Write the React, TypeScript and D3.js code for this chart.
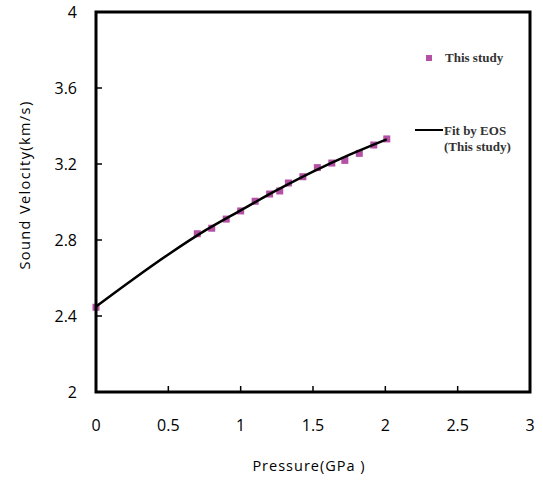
import React from 'react';
import * as d3 from 'd3';

const pressure = [0, 0.7, 0.8, 0.9, 1.0, 1.1, 1.2, 1.27, 1.33, 1.43, 1.53, 1.63, 1.72, 1.82, 1.92, 2.01];
const velocity = [2.446, 2.833, 2.862, 2.91, 2.953, 3.004, 3.042, 3.058, 3.1, 3.133, 3.181, 3.205, 3.219, 3.256, 3.3, 3.332];

const fitPressure = [0, 0.25, 0.5, 0.75, 1.0, 1.25, 1.5, 1.75, 2.01];
const fitVelocity = [2.45, 2.59, 2.724, 2.848, 2.956, 3.062, 3.16, 3.248, 3.33];

const xTicks = [0, 0.5, 1, 1.5, 2, 2.5, 3];
const yTicks = [2, 2.4, 2.8, 3.2, 3.6, 4];

const MARKER = '#b451a4';
const FONT = '"Open Sans", sans-serif';
const SERIF = '"Liberation Serif", serif';

export default function App() {
  const width = 543;
  const height = 481;
  const left = 96, right = 530, top = 12, bottom = 392;

  const x = d3.scaleLinear().domain([0, 3]).range([left, right]);
  const y = d3.scaleLinear().domain([2, 4]).range([bottom, top]);

  const line = d3.line<[number, number]>()
    .x(d => x(d[0]))
    .y(d => y(d[1]))
    .curve(d3.curveMonotoneX);

  const fitData: [number, number][] = fitPressure.map((p, i) => [p, fitVelocity[i]]);

  return (
    <svg width={width} height={height} style={{ position: 'absolute', left: 0, top: 0, background: '#fff' }}>
      {/* data points */}
      {pressure.map((p, i) => (
        <rect key={i} x={x(p) - 3.5} y={y(velocity[i]) - 3.5} width={7} height={7} fill={MARKER} />
      ))}
      <path d={line(fitData) || ''} fill="none" stroke="#000" strokeWidth={2.5} />

      {/* frame */}
      <rect x={left} y={top} width={right - left} height={bottom - top} fill="none" stroke="#000" strokeWidth={3} />

      {/* ticks */}
      {xTicks.slice(1, -1).map(t => (
        <line key={'xt' + t} x1={x(t)} x2={x(t)} y1={bottom} y2={bottom - 6} stroke="#000" strokeWidth={1.5} />
      ))}
      {yTicks.slice(1, -1).map(t => (
        <line key={'yt' + t} x1={left} x2={left + 6} y1={y(t)} y2={y(t)} stroke="#000" strokeWidth={1.5} />
      ))}

      {/* tick labels */}
      {xTicks.map(t => (
        <text key={'xl' + t} x={x(t)} y={431} textAnchor="middle" fontFamily={FONT} fontSize={16} fill="#000">{t}</text>
      ))}
      {yTicks.map(t => (
        <text key={'yl' + t} x={77} y={y(t) + 6} textAnchor="end" fontFamily={FONT} fontSize={16} fill="#000">{t}</text>
      ))}

      {/* axis titles */}
      <text x={309} y={471} textAnchor="middle" fontFamily={FONT} fontSize={14.5} letterSpacing={1} fill="#000">Pressure(GPa )</text>
      <text transform="translate(30,185) rotate(-90)" textAnchor="middle" fontFamily={FONT} fontSize={14.5} letterSpacing={1.4} fill="#000">Sound Velocity(km/s)</text>

      {/* legend */}
      <rect x={426} y={55} width={6} height={6} fill={MARKER} />
      <text x={445} y={62} fontFamily={SERIF} fontWeight="bold" fontSize={13} fill="#333">This study</text>
      <line x1={415} x2={443} y1={130} y2={130} stroke="#000" strokeWidth={2} />
      <text x={444} y={135} fontFamily={SERIF} fontWeight="bold" fontSize={13} fill="#333">Fit by EOS</text>
      <text x={444} y={151} fontFamily={SERIF} fontWeight="bold" fontSize={13} fill="#333">(This study)</text>
    </svg>
  );
}
